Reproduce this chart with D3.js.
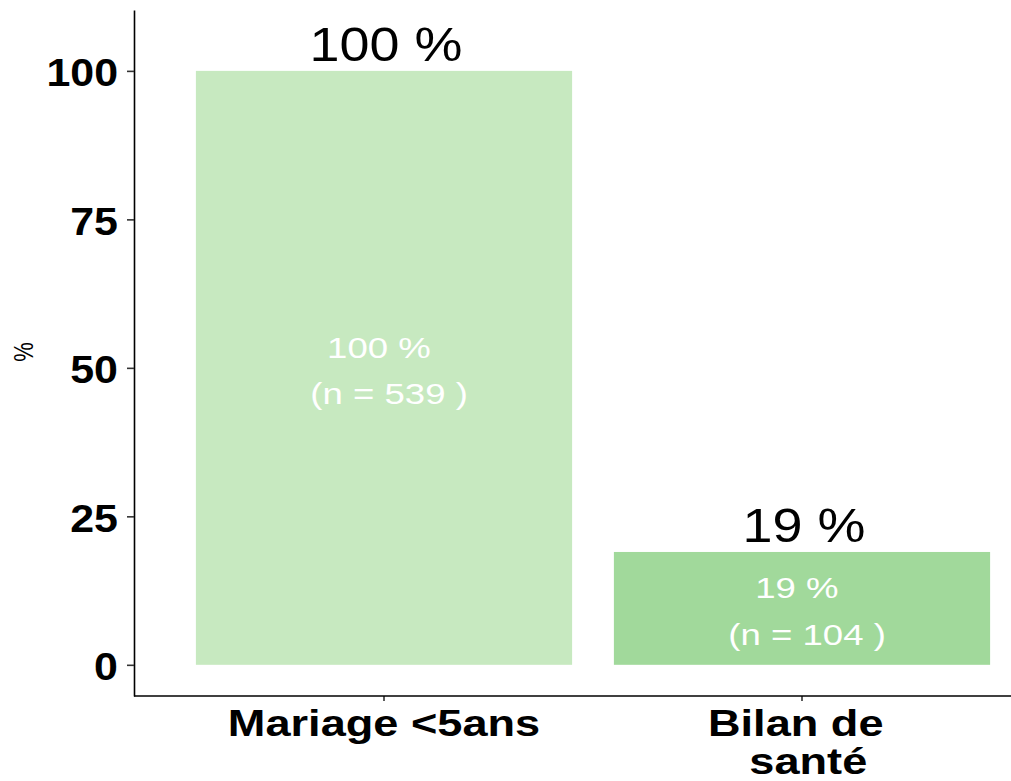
<!DOCTYPE html>
<html>
<head>
<meta charset="utf-8">
<script src="https://cdn.jsdelivr.net/npm/d3@7"></script>
<style>
  body { margin: 0; background: #fff; }
  svg { display: block; font-family: "Liberation Sans", Arial, sans-serif; }
  text { white-space: pre; }
</style>
</head>
<body>
<svg id="chart"></svg>
<script>
// données
const categories = ["Mariage <5ans", "Bilan de santé"];
const xLabelLines = [["Mariage <5ans"], ["Bilan de ", " santé"]];
const values = [100, 19];
const counts = [539, 104];
const barColors = ["#c7e9c0", "#a1d99b"];
const yTicks = [0, 25, 50, 75, 100];

const width = 1011, height = 781;
const axisX = 134, axisY = 696;

let svg = d3.select('#chart')
    .attr('width', width)
    .attr('height', height);

// échelles (expansion à la ggplot)
let y = d3.scaleLinear()
    .domain([-5.25, 110.25])
    .range([axisY, 10]);

let x = d3.scaleBand()
    .domain(categories)
    .range([175, 1011])
    .padding(0);

const barW = x.bandwidth() * 0.9;

// barres
svg.append("g")
    .selectAll("rect")
    .data(categories)
    .join("rect")
    .attr("x", d => x(d) + (x.bandwidth() - barW) / 2)
    .attr("width", barW)
    .attr("y", (d, i) => y(values[i]))
    .attr("height", (d, i) => y(0) - y(values[i]))
    .attr("fill", (d, i) => barColors[i]);

// étiquettes au-dessus
svg.append("g")
    .selectAll("text")
    .data(categories)
    .join("text")
    .attr("transform", (d, i) => `translate(${x(d) + x.bandwidth() / 2 + 2},${y(values[i]) - 10}) scale(1.1,1)`)
    .attr("text-anchor", "middle")
    .attr("font-size", 49)
    .attr("fill", "#000")
    .text((d, i) => values[i] + " %");

// étiquettes dans les barres
let inner = svg.append("g")
    .selectAll("text")
    .data(categories)
    .join("text")
    .attr("transform", (d, i) => {
        let mid = (y(values[i]) + y(0)) / 2;
        return `translate(${x(d) + x.bandwidth() / 2},${mid - 10}) scale(1.24,1)`;
    })
    .attr("text-anchor", "middle")
    .attr("font-size", 29.5)
    .attr("fill", "#ffffff");
inner.append("tspan")
    .attr("x", 0).attr("y", 0)
    .text((d, i) => values[i] + " % ");
inner.append("tspan")
    .attr("x", 0).attr("y", 46.5)
    .text((d, i) => " (n = " + counts[i] + " )");

// axe y
let yAxis = svg.append("g")
    .attr("transform", `translate(${axisX},0)`)
    .call(d3.axisLeft(y).tickValues(yTicks).tickSize(7).tickSizeOuter(0));
yAxis.select(".domain").attr("stroke", "#000").attr("stroke-width", 1.6);
yAxis.selectAll(".tick line").attr("stroke", "#333").attr("stroke-width", 1.6);
yAxis.selectAll(".tick text")
    .attr("x", null).attr("dy", null)
    .attr("transform", "translate(-16,15) scale(1.13,1)")
    .attr("font-family", "Liberation Sans, Arial, sans-serif")
    .attr("font-size", 38)
    .attr("font-weight", "bold")
    .attr("fill", "#000");

// axe x
let xAxis = svg.append("g")
    .attr("transform", `translate(0,${axisY})`)
    .call(d3.axisBottom(x).tickSize(5).tickSizeOuter(0));
xAxis.select(".domain").remove();
xAxis.append("line")
    .attr("x1", axisX).attr("x2", width)
    .attr("stroke", "#000").attr("stroke-width", 1.6);
xAxis.selectAll(".tick line").attr("stroke", "#333").attr("stroke-width", 1.6);
xAxis.selectAll(".tick text")
    .attr("y", null).attr("dy", null)
    .attr("transform", "translate(0,40) scale(1.22,1)")
    .attr("font-family", "Liberation Sans, Arial, sans-serif")
    .attr("font-size", 37)
    .attr("font-weight", "bold")
    .attr("fill", "#000")
    .text(null)
    .each(function (d, i) {
        d3.select(this).selectAll("tspan")
            .data(xLabelLines[i])
            .join("tspan")
            .attr("x", 0)
            .attr("y", (l, j) => j * 38)
            .text(l => l);
    });

// titre axe y
svg.append("text")
    .attr("transform", "translate(33,352) scale(1.25,1) rotate(-90)")
    .attr("text-anchor", "middle")
    .attr("font-size", 22)
    .attr("fill", "#000")
    .text("%");
</script>
</body>
</html>
